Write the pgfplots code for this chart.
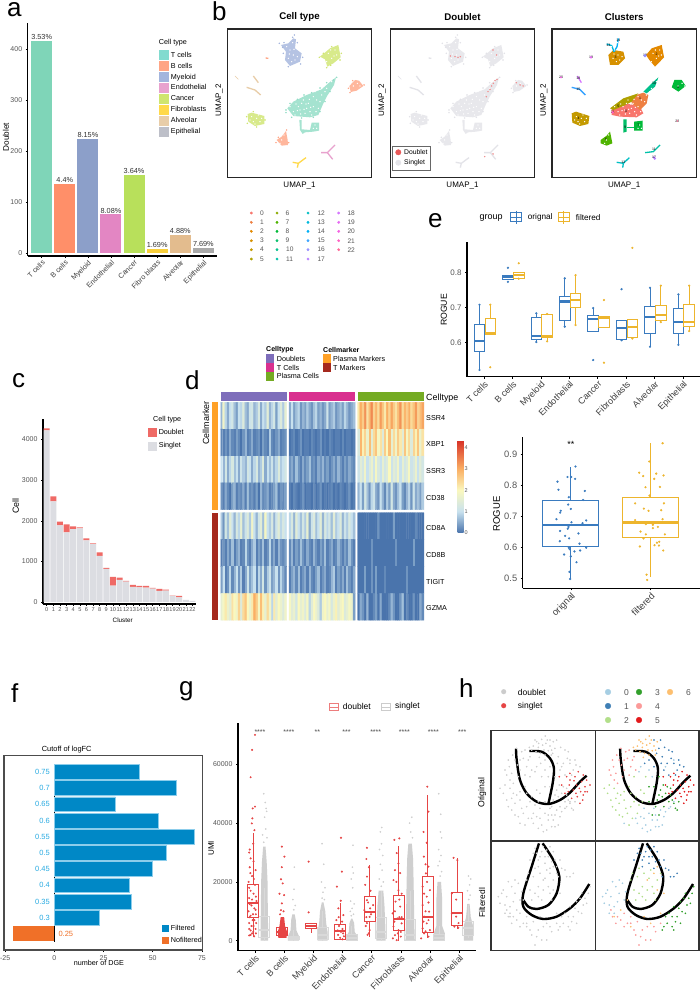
\documentclass[border=0pt]{standalone}
\usepackage{fontspec}
\setmainfont{Liberation Sans}
\usepackage{pgfplots}
\usepgfplotslibrary{statistics}
\pgfplotsset{compat=1.18}
\pgfkeys{/pgf/number format/assume math mode=true}
\newcommand\fs[1]{\fontsize{#1}{#1}\selectfont}
\definecolor{tk}{HTML}{555555}
\definecolor{eb}{HTML}{3A7BBF}
\definecolor{ey}{HTML}{EDB52D}
\definecolor{dbl}{HTML}{E64545}
\definecolor{sgl}{HTML}{CFCFCF}
\definecolor{cTc}{HTML}{7FD5B8}\definecolor{cBc}{HTML}{FF8F69}\definecolor{cMy}{HTML}{8C9FC9}\definecolor{cEn}{HTML}{E386C3}
\definecolor{cCa}{HTML}{B8E05B}\definecolor{cFi}{HTML}{F8CF3B}\definecolor{cAl}{HTML}{E3BC8E}\definecolor{cEp}{HTML}{A9A9A9}
\definecolor{lTc}{HTML}{82DBCF}\definecolor{lBc}{HTML}{FFA585}\definecolor{lMy}{HTML}{A3B5DD}\definecolor{lEn}{HTML}{E8A2CE}
\definecolor{lCa}{HTML}{CFE56E}\definecolor{lFi}{HTML}{FFD94A}\definecolor{lAl}{HTML}{E8CDA8}\definecolor{lEp}{HTML}{BDBFC8}
\definecolor{uT}{HTML}{8FDCC5}\definecolor{ugr}{HTML}{E3E3E8}
\definecolor{stkS}{HTML}{DCDDE2}\definecolor{stkD}{HTML}{EF6A66}
\definecolor{fb}{HTML}{0088C6}\definecolor{fe}{HTML}{8CCDEB}\definecolor{fo}{HTML}{F07028}\definecolor{ft}{HTML}{29ABE2}
\definecolor{aP}{HTML}{7E6EBB}\definecolor{aT}{HTML}{D9308F}\definecolor{aG}{HTML}{74AB23}\definecolor{aO}{HTML}{FFA126}\definecolor{aB}{HTML}{A5291E}
\definecolor{c0}{HTML}{F8766D}\definecolor{c1}{HTML}{EE8042}\definecolor{c2}{HTML}{E38900}
\definecolor{c3}{HTML}{D69100}\definecolor{c4}{HTML}{C49A00}\definecolor{c5}{HTML}{AFA100}
\definecolor{c6}{HTML}{8CAB00}\definecolor{c7}{HTML}{4FB400}\definecolor{c8}{HTML}{00BA38}
\definecolor{c9}{HTML}{00BE67}\definecolor{c10}{HTML}{00C08B}\definecolor{c11}{HTML}{00C1A9}
\definecolor{c12}{HTML}{00BFC4}\definecolor{c13}{HTML}{00BADE}\definecolor{c14}{HTML}{00B0F6}
\definecolor{c15}{HTML}{35A2FF}\definecolor{c16}{HTML}{9590FF}\definecolor{c17}{HTML}{B983FF}
\definecolor{c18}{HTML}{D575FE}\definecolor{c19}{HTML}{E76BF3}\definecolor{c20}{HTML}{F564E3}
\definecolor{c21}{HTML}{FF61C3}\definecolor{c22}{HTML}{FF6A98}
\definecolor{h0}{HTML}{A6CEE3}\definecolor{h1}{HTML}{3F7FB5}\definecolor{h2}{HTML}{B2DF8A}
\definecolor{h3}{HTML}{33A02C}\definecolor{h4}{HTML}{FB9A99}\definecolor{h5}{HTML}{E31A1C}
\definecolor{h6}{HTML}{FDBF6F}
\pgfplotsset{
  colormap={hm}{rgb255(0cm)=(74,116,172); rgb255(1cm)=(200,225,238); rgb255(2cm)=(250,248,190); rgb255(3cm)=(250,175,100); rgb255(4.37cm)=(215,48,39)},
  base/.style={scale only axis,anchor=north west,/pgf/number format/1000 sep={},scaled ticks=false,
    tick label style={font=\fs{7},text=tk},
    axis x line*=bottom,axis y line*=left,axis line style={line width=1.1pt},
    tick style={line width=.5pt,black},tick align=outside,major tick length=2pt,boxplot/draw direction=y},
  ylab/.style n args={3}{ylabel style={at={(axis description cs:#1,#2)},anchor=center,font=\fs{#3}}},
  xlab/.style n args={3}{xlabel style={at={(axis description cs:#1,#2)},anchor=center,font=\fs{#3}}},
  rotx/.style={xticklabel style={rotate=45,anchor=north east,inner sep=1pt,text=black!75,font=\fs{#1}}},
  swatch/.style 2 args={legend image code/.code={\fill[##1,draw=none] (0pt,-#2/2) rectangle (#1,#2/2);}},
  lg/.style n args={3}{legend style={draw=none,fill=none,at={(#1,#2)},anchor=north west,inner sep=0pt,outer sep=0pt,font=\fs{7.2},row sep=#3,/tikz/every even column/.style={column sep=3pt}},legend cell align=left},
  umap/.style={base,axis lines=box,axis line style={line width=1.2pt,black!85},xtick=\empty,ytick=\empty,width=144.4pt,height=148.3pt,xmin=52,xmax=485,ymin=87,ymax=532,y dir=reverse,
    xlabel=UMAP\_1,ylabel=UMAP\_2,xlab={.5}{-.057}{8},ylab={-.057}{.52}{8},
    title style={font=\bfseries\fs{9.7},at={(.5,1.04)},anchor=center}},
  hpan/.style={base,axis lines=box,axis line style={line width=1.2pt,black!80},xtick=\empty,ytick=\empty,xmin=63,xmax=376,y dir=reverse},
  hgrey/.style={scatter,only marks,mark=*,mark size=.6,scatter src=explicit symbolic,
    scatter/classes={0={draw=sgl,fill=sgl},1={draw=sgl,fill=sgl},2={draw=sgl,fill=sgl},3={draw=sgl,fill=sgl},4={draw=sgl,fill=sgl},5={draw=dbl,fill=dbl},6={draw=sgl,fill=sgl}}},
  hcol/.style={scatter,only marks,mark=*,mark size=.6,scatter src=explicit symbolic,
    scatter/classes={0={draw=h0,fill=h0},1={draw=h1,fill=h1},2={draw=h2,fill=h2},3={draw=h3,fill=h3},4={draw=h4,fill=h4},5={draw=h5,fill=h5},6={draw=h6,fill=h6}}},
}
% boxplot: colour, position, whiskers and quartiles; \bw is half the box width
\newcommand\bx[7]{\addplot[boxplot prepared={draw position=#2,lower whisker=#3,lower quartile=#4,median=#5,upper quartile=#6,upper whisker=#7},draw=#1,solid,line width=.9pt,forget plot] coordinates {};
  \pgfmathsetmacro\xa{#2-\bw}\pgfmathsetmacro\xb{#2+\bw}
  \edef\tmp{\noexpand\addplot[draw=#1,line width=2.2pt,forget plot] coordinates {(\xa,#5)(\xb,#5)};}\tmp}
\newcommand\pts[3][.8]{\addplot[only marks,mark=*,mark size=#1,color=#2,mark options={draw=none,fill=#2},forget plot] coordinates {#3};}
\newcommand\poly[2]{\addplot[fill=#1,draw=none,forget plot] coordinates {#2};}
\newcommand\upoly[2]{\addplot[fill=#1,fill opacity=.8,draw=none,forget plot] coordinates {#2};}
\newcommand\lin[3][1.3pt]{\addplot[draw=#2,line width=#1,forget plot] coordinates {#3};}
\newcommand\abar[4]{\addplot[ybar,bar width=21pt,bar shift=0pt,draw=none,fill=#1,forget plot] coordinates {(#2,#3)[#4]};}
\newcommand\lbl[4][west]{\node[anchor=#1,inner sep=0pt,font=\fs{7.2}] at (#2pt,-#3pt) {#4};}
\newcommand\rct[5]{\fill[#1] (#2pt,-#3pt) rectangle (#4pt,-#5pt);}
% heatmap block: 4 rows of 30 cells
\newcommand\hmblock[3]{\addplot[matrix plot*,mesh/cols=30,point meta=\thisrowno{0}] table[header=false,row sep=\\,x expr={#1+2.207*(mod(\coordindex,30)+.5)},y expr={#2+26.85*(floor(\coordindex/30)+.5)}] {#3};}
% cell-type shapes of the UMAP
\newcommand\umapcells[7]{%
 \upoly{#4}{(213,135)(235,130)(250,115)(258,118)(255,145)(275,160)(270,185)(240,198)(225,180)(228,155)}
 \upoly{#5}{(330,170)(360,145)(385,135)(392,172)(370,190)(352,200)(345,178)}
 \upoly{#2}{(378,232)(372,255)(350,290)(340,310)(325,345)(300,352)(250,348)(232,325)(250,305)(290,285)(335,268)(355,250)}
 \upoly{#2}{(268,360)(275,360)(275,388)(300,390)(305,368)(327,368)(327,392)(310,395)(285,397)(278,402)(270,390)}
 \upoly{#3}{(418,258)(435,240)(447,242)(460,258)(440,272)(422,276)}
 \upoly{#5}{(113,342)(125,338)(163,348)(163,372)(135,378)(115,365)}
 \upoly{#3}{(200,420)(215,410)(228,393)(233,420)(234,435)(215,437)}
 \lin{#6}{(333,458)(352,458)(375,435)}\lin{#6}{(352,458)(368,478)}
 \lin{#7}{(248,487)(265,490)(288,473)}\lin{#7}{(265,490)(262,503)}
 \lin{#1}{(130,228)(145,248)}\lin{#1}{(110,262)(135,270)(152,285)}
 \lin[.6pt]{#1}{(75,228)(85,238)}\lin{#3}{(167,174)(175,175)}
 \pts[.5]{#2}{(228,330)(240,310)(262,298)(282,285)(305,278)(330,264)(350,248)(370,240)(228,338)(245,352)(275,354)(310,352)(330,335)(345,305)(360,275)(380,232)}
 \pts[.5]{#4}{(208,130)(222,128)(248,112)(262,128)(278,172)(272,192)(235,200)(220,160)(218,142)(253,105)}
 \pts[.5]{#5}{(328,172)(340,160)(365,140)(394,160)(390,180)(362,196)(350,203)(110,350)(112,370)(140,381)(165,360)(130,335)}
 \pts[.5]{#3}{(415,265)(428,242)(462,255)(420,278)(198,428)(205,412)(236,428)(230,390)}
}
\newcommand\specks{\pts[.4]{white}{(250,335)(265,320)(280,300)(295,310)(310,290)(320,300)(335,285)(345,275)(300,335)(285,340)(270,330)(255,345)(310,320)(325,325)(290,325)(275,310)(305,345)(240,320)(330,305)(315,275)(350,265)(365,245)(258,312)(272,342)(288,312)(302,322)(318,335)(282,328)(298,298)(262,332)(240,150)(250,165)(235,175)(255,180)(262,170)(245,185)(230,140)(248,128)(238,162)(252,148)(355,160)(365,175)(375,150)(350,185)(380,165)(362,150)(372,168)(125,350)(140,355)(150,365)(130,365)(155,355)(120,360)(145,345)(135,372)(430,258)(442,250)(450,258)(215,420)(222,405)(210,430)(315,375)(310,385)(320,385)}}
\newcommand\trajtop{%
 \addplot[black,line width=2.4pt,smooth,forget plot] coordinates {(138,266)(140,300)(150,360)(170,400)(200,425)(235,432)(270,420)(300,398)(330,365)(350,347)};
 \addplot[black,line width=2.4pt,smooth,forget plot] coordinates {(178,273)(215,275)(240,295)(252,325)(248,370)(235,432)};}
\newcommand\trajbot{%
 \addplot[black,line width=2.4pt,smooth,forget plot] coordinates {(358,672)(330,715)(300,745)(260,770)(220,777)(185,765)(160,740)(160,700)(185,620)(207,550)};
 \addplot[black,line width=2.4pt,smooth,forget plot] coordinates {(218,550)(250,600)(268,650)(260,700)(235,735)(200,747)(175,740)(160,720)};}
\pgfplotstableread[row sep=\\]{x y c\\
200 245 6\\215 238 6\\228 250 6\\240 258 6\\205 262 6\\222 270 6\\190 258 6\\235 272 6\\212 280 6\\250 245 6\\198 275 6\\226 228 6\\244 285 6\\185 270 6\\218 255 6\\208 292 6\\232 240 6\\206 250 6\\245 270 6\\195 240 6\\225 285 6\\178 262 6\\
300 340 5\\315 350 5\\325 335 5\\335 365 5\\320 375 5\\345 380 5\\310 390 5\\332 395 5\\350 360 5\\298 375 5\\340 405 5\\322 410 5\\285 400 5\\305 415 5\\352 395 5\\290 350 5\\275 375 5\\330 430 5\\312 362 5\\328 385 5\\340 345 5\\345 395 5\\318 400 5\\300 360 5\\360 375 5\\295 395 5\\338 420 5\\268 350 5\\
135 300 4\\150 330 4\\125 340 4\\160 295 4\\145 350 4\\118 320 4\\170 320 4\\110 345 4\\155 275 4\\130 370 4\\185 330 4\\175 300 4\\128 285 4\\142 315 4\\165 345 4\\120 360 4\\105 330 4\\150 300 4\\180 290 4\\115 300 4\\140 265 4\\165 270 4\\
130 400 2\\110 420 2\\150 420 2\\170 440 2\\125 450 2\\145 470 2\\185 410 2\\165 380 2\\120 385 2\\190 460 2\\155 445 2\\200 390 2\\100 400 2\\135 430 2\\175 475 2\\215 350 2\\210 400 2\\180 350 2\\115 440 2\\140 405 2\\160 460 2\\180 425 2\\105 375 2\\125 415 2\\195 435 2\\150 395 2\\170 400 2\\205 425 2\\90 385 2\\135 465 2\\165 495 2\\
200 470 0\\225 460 0\\250 480 0\\215 495 0\\240 445 0\\270 470 0\\230 510 0\\260 450 0\\190 490 0\\285 445 0\\210 445 0\\245 500 0\\225 330 0\\200 320 0\\275 320 0\\300 300 0\\290 440 0\\235 480 0\\210 475 0\\255 500 0\\185 475 0\\275 455 0\\220 515 0\\245 465 0\\300 425 0\\265 495 0\\205 505 0\\195 335 0\\235 350 0\\150 490 0\\
265 290 1\\280 310 1\\295 275 1\\310 330 1\\270 330 1\\255 265 1\\285 345 1\\300 310 1\\318 315 1\\260 240 1\\240 320 1\\225 300 1\\272 262 1\\292 295 1\\305 345 1\\262 310 1\\248 280 1\\315 300 1\\285 270 1\\330 320 1\\240 240 1\\212 310 1\\
260 390 3\\285 425 3\\265 410 3\\300 430 3\\250 420 3\\280 380 3\\305 445 3\\240 380 3\\270 440 3\\225 380 3\\255 350 3\\290 405 3\\235 465 3\\275 400 3\\295 420 3\\255 405 3\\315 425 3\\245 440 3\\268 375 3\\290 385 3\\225 425 3\\310 450 3\\255 465 3\\
}\hTop
\pgfplotstableread[row sep=\\]{x y c\\
195 565 1\\215 575 1\\235 590 1\\205 600 1\\225 610 1\\250 575 1\\260 620 1\\285 630 1\\240 625 1\\190 580 1\\270 600 1\\300 650 1\\220 560 1\\245 605 1\\265 650 1\\210 590 1\\230 570 1\\200 580 1\\255 600 1\\275 625 1\\240 560 1\\290 650 1\\225 590 1\\205 620 1\\310 640 1\\180 600 1\\
300 740 3\\320 725 3\\335 700 3\\310 770 3\\280 790 3\\345 715 3\\325 755 3\\295 800 3\\265 810 3\\355 700 3\\340 735 3\\305 785 3\\285 760 3\\315 745 3\\330 715 3\\295 770 3\\270 800 3\\350 730 3\\300 810 3\\335 760 3\\320 790 3\\275 770 3\\360 680 3\\
130 770 4\\160 790 4\\180 810 4\\200 830 4\\220 800 4\\150 760 4\\110 750 4\\245 815 4\\190 785 4\\125 790 4\\230 840 4\\170 770 4\\140 780 4\\170 790 4\\205 810 4\\215 840 4\\240 800 4\\115 770 4\\185 825 4\\150 800 4\\260 790 4\\195 855 4\\
100 690 0\\125 680 0\\110 710 0\\145 670 0\\90 730 0\\120 740 0\\135 700 0\\150 720 0\\105 760 0\\95 700 0\\115 665 0\\135 660 0\\85 710 0\\105 735 0\\130 725 0\\155 695 0\\120 760 0\\
190 650 2\\205 680 2\\225 655 2\\180 690 2\\240 700 2\\215 720 2\\195 625 2\\175 640 2\\235 680 2\\250 660 2\\205 710 2\\210 640 2\\230 630 2\\170 660 2\\195 700 2\\245 720 2\\220 690 2\\260 640 2\\185 720 2\\
220 660 6\\240 640 6\\250 690 6\\120 770 6\\170 800 6\\160 720 6\\210 770 6\\260 760 6\\270 700 6\\250 620 6\\140 750 6\\230 790 6\\
}\hBot
\begin{document}
\begin{tikzpicture}
\useasboundingbox (0,0) rectangle (700pt,-990pt);
\fill[white] (0,0) rectangle (700pt,-990pt);
% a
\begin{axis}[base,at={(27.7pt,-22.7pt)},width=189pt,height=233.3pt,xmin=-.606,xmax=7.576,ymin=-5.3,ymax=451.5,
  ytick={0,100,200,300,400},xtick={0,...,7},xticklabels={T cells,B cells,Myeloid,Endothelial,Cancer,Fibro blasts,Alveolar,Epithelial},rotx=7.2,
  ylabel=Doublet,ylab={-.115}{.51}{8.2},point meta=explicit symbolic,
  every node near coord/.style={font=\fs{7.3},text=black!80,inner sep=1pt},nodes near coords,
  lg={.693}{.883}{.2pt}]
\abar{cTc}{0}{415.7}{3.53\%}
\abar{cBc}{1}{135.7}{4.4\%}
\abar{cMy}{2}{223.8}{8.15\%}
\abar{cEn}{3}{76.4}{8.08\%}
\abar{cCa}{4}{153.3}{3.64\%}
\abar{cFi}{5}{8.4}{1.69\%}
\abar{cAl}{6}{35.8}{4.88\%}
\abar{cEp}{7}{11}{7.69\%}
\addlegendimage{swatch={10.3pt}{10pt},fill=lTc}\addlegendentry{T cells}
\addlegendimage{swatch={10.3pt}{10pt},fill=lBc}\addlegendentry{B cells}
\addlegendimage{swatch={10.3pt}{10pt},fill=lMy}\addlegendentry{Myeloid}
\addlegendimage{swatch={10.3pt}{10pt},fill=lEn}\addlegendentry{Endothelial}
\addlegendimage{swatch={10.3pt}{10pt},fill=lCa}\addlegendentry{Cancer}
\addlegendimage{swatch={10.3pt}{10pt},fill=lFi}\addlegendentry{Fibroblasts}
\addlegendimage{swatch={10.3pt}{10pt},fill=lAl}\addlegendentry{Alveolar}
\addlegendimage{swatch={10.3pt}{10pt},fill=lEp}\addlegendentry{Epithelial}
\end{axis}
% b
\begin{axis}[umap,at={(227.3pt,-29pt)},title=Cell type]
\umapcells{lAl}{uT}{lBc}{lMy}{lCa}{lEn}{lFi}
\specks
\end{axis}
\begin{axis}[umap,at={(390.3pt,-29pt)},title=Doublet]
\umapcells{ugr}{ugr}{ugr}{ugr}{ugr}{ugr}{ugr}
\specks
\pts[.5]{dbl!60}{(361,250)(356,258)(351,268)(366,242)(372,238)(246,170)(232,168)(255,172)(262,170)(371,165)(360,150)(441,255)(450,258)(430,248)(345,275)(340,290)(335,470)(360,462)}
\end{axis}
\begin{axis}[umap,at={(552pt,-29pt)},title=Clusters]
\poly{c0}{(231,325)(276,310)(316,320)(326,340)(306,352)(256,350)(231,345)}
\poly{c1}{(291,290)(326,278)(341,285)(336,310)(316,330)(291,310)}
\poly{c5}{(226,325)(266,295)(311,280)(291,305)(266,318)(236,330)}
\poly{c10}{(371,232)(361,260)(336,280)(326,275)(351,250)}
\poly{c9}{(266,358)(276,358)(276,395)(266,398)}
\poly{c8}{(298,365)(324,362)(324,392)(298,392)}
\lin{c9}{(276,382)(298,382)}
\poly{c7}{(198,420)(216,407)(226,395)(233,430)(216,437)(198,430)}
\poly{c4}{(111,340)(124,335)(164,348)(161,372)(136,378)(113,368)}
\poly{c3}{(221,165)(236,150)(266,155)(271,175)(251,195)(226,195)}
\poly{c2}{(334,165)(351,145)(381,135)(388,172)(361,200)(344,180)}
\poly{c8}{(411,262)(419,240)(441,240)(453,258)(431,275)}
\lin{c13}{(216,132)(231,137)(238,155)}
\lin{c14}{(251,115)(247,140)(238,155)}
\lin{c15}{(111,262)(135,268)(152,285)}
\lin{c18}{(128,228)(140,248)}
\lin{c11}{(331,458)(356,455)(376,435)}
\lin[2pt]{c17}{(356,470)(362,478)}
\lin{c12}{(246,487)(266,490)(284,473)}
\lin{c12}{(266,490)(264,503)}
\pts[1.4]{c16}{(331,167)}
\pts[1]{c19}{(169,172)}
\pts[.7]{c20}{(79,232)}
\pts[1]{c21}{(234,337)}
\pts[.5]{c22}{(428,363)}
\specks
\foreach \n/\xx/\yy in {0/274/333,1/316/295,2/366/163,3/243/172,4/132/354,5/251/320,6/214/418,7/311/377,8/431/262,9/271/383,10/358/250,11/358/448,12/266/487,13/221/136,14/251/122,15/131/268,16/331/167,17/358/472,18/131/236,19/169/172,20/79/232,21/234/337,22/428/363}{
  \edef\tmp{\noexpand\node[font=\noexpand\fs{3.5},inner sep=0pt] at (axis cs:\xx,\yy) {\n};}\tmp}
\end{axis}
% cluster legend of b and legend dots of b and h
\begin{axis}[hide axis,scale only axis,anchor=north west,at={(0pt,0pt)},width=700pt,height=990pt,xmin=0,xmax=700,ymin=0,ymax=990,y dir=reverse,clip=false]
\pts[1.2]{c0}{(251.3,213)}\pts[1.2]{c1}{(251.3,222.3)}\pts[1.2]{c2}{(251.3,231.3)}\pts[1.2]{c3}{(251.3,240.7)}\pts[1.2]{c4}{(251.3,249.7)}\pts[1.2]{c5}{(251.3,259)}
\pts[1.2]{c6}{(277,213)}\pts[1.2]{c7}{(277,222.3)}\pts[1.2]{c8}{(277,231.3)}\pts[1.2]{c9}{(277,240.7)}\pts[1.2]{c10}{(277,249.7)}\pts[1.2]{c11}{(277,259)}
\pts[1.2]{c12}{(308,213)}\pts[1.2]{c13}{(308,222.3)}\pts[1.2]{c14}{(308,231.3)}\pts[1.2]{c15}{(308,240.7)}\pts[1.2]{c16}{(308,249.7)}\pts[1.2]{c17}{(308,259)}
\pts[1.2]{c18}{(338.7,213)}\pts[1.2]{c19}{(338.7,222.3)}\pts[1.2]{c20}{(338.7,231.3)}\pts[1.2]{c21}{(338.7,240.7)}\pts[1.2]{c22}{(338.7,249.7)}
\pts[2.7]{dbl!90}{(398.3,152.3)}\pts[2.7]{ugr}{(398.3,162.7)}
\pts[2.3]{black!20}{(503.7,691.7)}\pts[2.3]{dbl}{(503.7,705.7)}
\pts[2.8]{h0}{(608,692)}\pts[2.8]{h1}{(608,706)}\pts[2.8]{h2}{(608,720)}
\pts[2.8]{h3}{(639,692)}\pts[2.8]{h4}{(639,706)}\pts[2.8]{h5}{(639,720)}\pts[2.8]{h6}{(670,692)}
\end{axis}
% c
\begin{axis}[base,at={(43pt,-419pt)},width=152.7pt,height=185pt,xmin=-.56,xmax=22.5,ymin=-50,ymax=4507,
  ybar stacked,bar width=6pt,xtick={0,...,22},ytick={0,1000,2000,3000,4000},
  xticklabel style={font=\fs{5.6},text=tk,inner sep=1pt},
  xlabel=Cluster,ylabel=Cell,xlab={.522}{-.086}{6.3},ylab={-.179}{.531}{8.9},
  lg={.688}{.957}{3pt}]
\addplot[fill=stkS,draw=none,forget plot] coordinates {(0,4226)(1,2478)(2,1887)(3,1714)(4,1796)(5,1813)(6,1517)(7,1426)(8,1133)(9,813)(10,402)(11,542)(12,500)(13,369)(14,361)(15,353)(16,328)(17,271)(18,279)(19,150)(20,115)(21,49)(22,25)};
\addplot[fill=stkD,draw=none,forget plot] coordinates {(0,50)(1,123)(2,91)(3,197)(4,66)(5,24)(6,49)(7,17)(8,91)(9,24)(10,214)(11,58)(12,17)(13,50)(14,33)(15,41)(16,17)(17,49)(18,24)(19,6)(20,33)(21,0)(22,0)};
\addlegendimage{swatch={8.7pt}{9pt},fill=stkD}\addlegendentry{Doublet}
\addlegendimage{swatch={8.7pt}{9pt},fill=stkS}\addlegendentry{Singlet}
\end{axis}
% d heatmap
\begin{axis}[scale only axis,anchor=north west,at={(220.5pt,-402.3pt)},width=203.5pt,height=217.7pt,xmin=220.5,xmax=424,ymin=402.3,ymax=620,y dir=reverse,
  axis lines=none,ticks=none,colormap name=hm,point meta min=0,point meta max=4.37,colorbar,
  colorbar style={scale only axis,width=6pt,height=92.7pt,at={(parent axis.north east)},anchor=north west,xshift=25pt,yshift=-37.7pt,ytick={0,1,2,3,4},
    axis line style={draw=none},tick style={draw=none},yticklabel style={font=\fs{5.5},text=tk,inner sep=1pt}}]
\hmblock{220.5}{402.3}{.6\\1.8\\.9\\.5\\1\\1.2\\.7\\.4\\1\\.9\\1.4\\.7\\.5\\1.1\\1.2\\.6\\.8\\1.3\\.5\\1\\.8\\1.5\\.6\\.9\\1.2\\.4\\1\\1.4\\.8\\1.6\\
.2\\.1\\.3\\.1\\.5\\.2\\.1\\.4\\.2\\0\\.3\\.6\\.1\\.2\\.5\\.1\\.2\\.3\\0\\.4\\.2\\.1\\.8\\.2\\.1\\.3\\.5\\.1\\.2\\.3\\
1\\.6\\1.2\\.5\\.9\\1.3\\.7\\1\\.5\\1.1\\.8\\.6\\1.2\\1\\.5\\.9\\1.3\\.6\\.8\\1.4\\.5\\1\\.7\\1.1\\.6\\.9\\1.4\\.8\\1\\1.2\\
.3\\.1\\.5\\.2\\0\\.4\\.6\\.1\\.3\\.2\\.5\\.1\\.7\\.2\\.3\\.1\\.4\\0\\.6\\.2\\.3\\.5\\.1\\.2\\.4\\.7\\.1\\.3\\.2\\.4\\}
\hmblock{220.5}{512.7}{.8\\.3\\1.2\\.7\\1.5\\1\\.6\\1.3\\.9\\1.6\\.7\\1.1\\1.4\\.8\\1.8\\1\\.6\\1.2\\1.5\\.7\\1.9\\1\\.8\\1.3\\.6\\1.1\\1.5\\.9\\1.3\\1\\
.1\\.3\\.1\\.5\\.2\\.7\\.1\\.4\\.6\\.1\\.2\\.9\\.3\\.1\\.5\\.8\\.1\\.4\\.2\\.7\\.1\\.3\\.9\\.2\\.5\\.1\\.6\\.3\\.2\\.4\\
.4\\1\\.1\\.3\\.9\\.2\\.6\\1\\.3\\.8\\.1\\.5\\1.1\\.4\\.7\\1\\.2\\.9\\.5\\1.2\\.3\\.8\\1.1\\.4\\.6\\1\\.3\\.9\\.5\\.2\\
1.6\\1.9\\2.2\\1.7\\1.5\\2.3\\2\\1.8\\2.5\\1.4\\2.4\\2.7\\2\\1.7\\2.2\\3\\2.6\\1.9\\2.8\\2.1\\1.6\\2.4\\1.8\\.9\\2.2\\1.5\\2\\1.7\\1.4\\1.8\\}
\hmblock{289}{402.3}{.5\\1\\.4\\.7\\.9\\.3\\.6\\.4\\.8\\.5\\.3\\.7\\.9\\.4\\.6\\.3\\.5\\1.1\\.4\\.6\\.8\\.3\\.5\\.7\\.4\\.9\\.6\\.3\\.5\\.7\\
0\\.1\\.2\\0\\.1\\.3\\0\\.1\\.1\\0\\.2\\.1\\0\\.1\\.3\\0\\.1\\0\\.2\\.1\\0\\.1\\.1\\0\\.2\\0\\.1\\.1\\0\\.1\\
.3\\.5\\.2\\.7\\.3\\.1\\.5\\.2\\.4\\.7\\.2\\.3\\.1\\.5\\.3\\.6\\.2\\.4\\.1\\.3\\.5\\.2\\.6\\.3\\.1\\.4\\.2\\.5\\.3\\.2\\
.1\\0\\.2\\.1\\0\\.1\\.3\\0\\.1\\.1\\0\\.2\\0\\.1\\.3\\0\\.1\\0\\.1\\.2\\0\\.1\\0\\.2\\.1\\0\\.1\\.3\\0\\.1\\}
\hmblock{289}{512.7}{.9\\1.3\\.6\\1.5\\1\\.7\\1.2\\.8\\1.6\\.5\\1.1\\1.4\\.7\\1\\1.5\\.6\\1.3\\.9\\1.2\\.7\\1.5\\.8\\1\\1.4\\.6\\1.1\\.8\\1.3\\1\\.7\\
.2\\.6\\.1\\.4\\.2\\.7\\.3\\.1\\.5\\.2\\.1\\.6\\.3\\.1\\.4\\.2\\.7\\.1\\.3\\.5\\.1\\.2\\.6\\.3\\.1\\.4\\.2\\.7\\.3\\.1\\
.1\\.4\\.6\\.2\\.7\\.1\\.3\\.5\\.1\\.6\\.2\\.1\\.4\\.7\\.1\\.3\\.5\\.1\\.2\\.6\\.8\\.1\\.4\\.2\\.5\\.1\\.7\\.3\\.1\\.5\\
1.9\\1.5\\1.7\\1.2\\2\\1.6\\1.8\\1.4\\1.9\\.9\\1.5\\2\\1.7\\1.4\\.8\\1.8\\2\\1.6\\1.9\\1.3\\1.7\\2.1\\1.5\\1.8\\2\\1.4\\1.6\\1.9\\1.7\\.4\\}
\hmblock{357.7}{402.3}{2.2\\3\\2.6\\3.3\\2.3\\2.8\\3.4\\2.5\\2.9\\2.4\\3.2\\2.7\\2.2\\3\\2.5\\3.1\\2.6\\2.3\\2.8\\3.3\\2.4\\2.9\\2.6\\3\\2.4\\2.7\\3.2\\2.5\\2.8\\3.1\\
1.3\\2.9\\2.1\\2.5\\1.7\\2.8\\1.5\\2.4\\2.7\\1.9\\2.3\\1.4\\2.6\\2\\2.8\\1.6\\2.4\\1.8\\2.6\\2.2\\1.5\\2.7\\1.9\\2.4\\1.4\\2.5\\2.1\\2.7\\1.7\\2.3\\
1.1\\1.5\\1.2\\1.8\\1\\1.4\\1.7\\1.1\\1.9\\1.3\\1\\1.6\\1.2\\1.4\\2\\1.1\\1.5\\1.3\\1.8\\1\\1.6\\1.2\\1.4\\1.9\\1.1\\1.3\\1.7\\1\\1.5\\1.2\\
.6\\1\\.4\\1.2\\.7\\.3\\.9\\1.1\\.5\\.3\\1\\.6\\.2\\.8\\.4\\1.2\\.5\\.3\\.7\\1\\.4\\.2\\.6\\.9\\.3\\1.1\\.5\\.7\\.4\\.8\\}
\hmblock{357.7}{512.7}{0\\0\\0\\0\\0\\0\\0\\0\\0\\.3\\0\\0\\0\\0\\0\\0\\.4\\0\\0\\0\\0\\0\\0\\0\\0\\0\\.2\\0\\0\\0\\
0\\0\\0\\0\\0\\0\\.3\\0\\0\\0\\0\\0\\0\\0\\0\\0\\0\\.3\\0\\0\\0\\0\\0\\0\\0\\.4\\0\\0\\0\\0\\
0\\0\\0\\.4\\0\\0\\.3\\0\\.4\\0\\0\\0\\.2\\0\\0\\0\\0\\0\\0\\0\\0\\0\\.3\\0\\0\\0\\0\\0\\0\\0\\
0\\.5\\.3\\0\\.6\\0\\0\\.2\\.4\\0\\.5\\0\\0\\0\\.2\\.6\\.3\\0\\0\\.3\\.7\\0\\.2\\0\\0\\.3\\0\\0\\.5\\.2\\}
\end{axis}
% e, by cell type
\begin{axis}[base,at={(467pt,-241.7pt)},width=233pt,height=135pt,xmin=-.6,xmax=7.6,ymin=.503,ymax=.8886,
  ytick={.6,.7,.8},yticklabel style={/pgf/number format/fixed,/pgf/number format/precision=1,font=\fs{8}},
  xtick={0,...,7},xticklabels={T cells,B cells,Myeloid,Endothelial,Cancer,Fibroblasts,Alveolar,Epithelial},rotx=9,
  ylabel=ROGUE,ylab={-.099}{.494}{8.7},boxplot/box extend=.375,boxplot/whisker extend=0]
\def\bw{.1875}
\bx{eb}{-.16}{.522}{.5754}{.604}{.6526}{.7086}\bx{ey}{.22}{.625}{.625}{.627}{.668}{.7086}
\bx{eb}{.84}{.781}{.781}{.787}{.7925}{.7925}\bx{ey}{1.22}{.785}{.785}{.7925}{.801}{.801}
\bx{eb}{1.84}{.602}{.61}{.62}{.6734}{.684}\bx{ey}{2.22}{.604}{.615}{.62}{.68}{.682}
\bx{eb}{2.84}{.646}{.664}{.718}{.7315}{.784}\bx{ey}{3.22}{.6506}{.702}{.722}{.742}{.793}
\bx{eb}{3.84}{.6334}{.6334}{.6686}{.679}{.699}\bx{ey}{4.22}{.643}{.643}{.671}{.676}{.676}
\bx{eb}{4.84}{.607}{.61}{.641}{.663}{.663}\bx{ey}{5.22}{.612}{.615}{.644}{.667}{.667}
\bx{eb}{5.84}{.5886}{.6277}{.674}{.704}{.757}\bx{ey}{6.22}{.659}{.664}{.68}{.7057}{.763}
\bx{eb}{6.84}{.594}{.627}{.659}{.698}{.738}\bx{ey}{7.22}{.6334}{.646}{.659}{.7097}{.763}
\pts[.9]{eb}{(-.16,.522)(-.16,.7086)(.84,.814)(.84,.774)(1.84,.684)(1.84,.602)(2.84,.784)(2.84,.646)(3.84,.699)(3.84,.5506)(4.84,.753)(4.84,.607)(5.84,.757)(5.84,.5886)(6.84,.738)(6.84,.594)}
\pts[.9]{ey}{(.22,.53)(.22,.7086)(1.22,.827)(1.22,.783)(2.22,.682)(2.22,.604)(3.22,.793)(3.22,.6506)(4.22,.722)(4.22,.543)(5.22,.871)(5.22,.612)(6.22,.763)(6.22,.659)(7.22,.763)(7.22,.6334)}
\end{axis}
% e, overall
\begin{axis}[base,at={(522.7pt,-436.7pt)},width=177.3pt,height=151.6pt,xmin=-.603,xmax=1.62,ymin=.467,ymax=.956,
  ytick={.5,.6,.7,.8,.9},yticklabel style={/pgf/number format/fixed,/pgf/number format/precision=1,font=\fs{9.3}},
  xtick={0,1},xticklabels={orignal,filtered},rotx=9.4,ylabel=ROGUE,ylab={-.147}{.49}{9.5},boxplot/box extend=.703,boxplot/whisker extend=0]
\def\bw{.3515}
\bx{eb}{0}{.497}{.601}{.6706}{.749}{.8586}\bx{ey}{1}{.505}{.63}{.679}{.7607}{.935}
\pts[.9]{eb}{(.059,.860)(-.042,.826)(.004,.826)(.054,.820)(-.167,.811)(-.155,.785)(.176,.781)(-.025,.761)(.155,.752)(-.033,.737)(0,.723)(-.126,.717)(-.134,.711)(-.18,.690)(.193,.686)(.008,.680)(.147,.677)(-.029,.665)(-.038,.659)(-.134,.652)(.096,.644)(-.071,.636)(-.021,.628)(-.138,.619)(.109,.611)(-.025,.598)(-.013,.593)(.193,.598)(-.084,.576)(.046,.586)(.117,.589)(0,.570)(.071,.551)(-.017,.520)(-.008,.497)}
\pts[.9]{ey}{(1.151,.935)(.983,.876)(.858,.840)(1.071,.837)(.908,.829)(1.163,.831)(1.046,.820)(.937,.793)(1.117,.794)(.987,.766)(.807,.741)(1.168,.741)(.916,.724)(.975,.717)(1.134,.719)(.807,.687)(1.151,.690)(.941,.674)(1.029,.672)(1.092,.665)(1.029,.661)(.874,.650)(1.18,.641)(.941,.641)(.912,.628)(1.109,.617)(1.08,.614)(1.05,.606)(.866,.602)(1.105,.605)(1.159,.589)(.95,.511)(.958,.494)}
\node[font=\fs{9}] at (axis cs:0,.93) {**};
\end{axis}
% f
\begin{axis}[base,axis lines=box,at={(4pt,-755.7pt)},width=198.7pt,height=194.3pt,xmin=-25.6,xmax=75.4,ymin=-1,ymax=11,
  axis line style={line width=1.2pt,black!70},xtick={-25,0,25,50,75},xtick pos=bottom,
  ytick={1,...,10},yticklabels={0.3,0.35,0.4,0.45,0.5,0.55,0.6,0.65,0.7,0.75},
  yticklabel style={text=ft,xshift=49pt,font=\fs{7.5},inner sep=1pt},major y tick style={draw=none},ytick pos=left,
  xlabel=number of DGE,xlab={.478}{-.067}{7.2},lg={.795}{.137}{1.5pt}]
\addplot[black,line width=.7pt,forget plot] coordinates {(0,-.5)(0,10.5)};
\addplot[xbar,bar width=14.7pt,bar shift=0pt,fill=fb,draw=fe,line width=.5pt,forget plot] coordinates {(23,1)(39,2)(38,3)(50,4)(57,5)(71,6)(53,7)(31,8)(62,9)(43,10)};
\addplot[xbar,bar width=14.7pt,bar shift=0pt,fill=fo,draw=none,forget plot] coordinates {(-21,0)};
\node[anchor=west,font=\fs{7.5},inner sep=1pt] at (axis cs:1.5,0) {\color{fo}0.25};
\addlegendimage{swatch={7pt}{7pt},fill=fb}\addlegendentry{Filtered}
\addlegendimage{swatch={7pt}{7pt},fill=fo}\addlegendentry{Nofiltered}
\end{axis}
% g, UMI in thousands
\begin{axis}[base,at={(238pt,-722.7pt)},width=238pt,height=228pt,xmin=-.583,xmax=7.58,ymin=-3.4,ymax=74.15,
  ytick={0,20,40,60},yticklabels={0,20000,40000,60000},xtick={0,...,7},xticklabels={T cells,B cells,Myeloid,Endothelial,Cancer,Fibroblasts,Alveolar,Epithelial},rotx=9,
  ylabel=UMI,ylab={-.113}{.45}{8},boxplot/box extend=.377,boxplot/whisker extend=0]
\def\bw{.1885}
\poly{sgl}{(.19,0)(.45,0)(.45,3)(.44,10)(.43,20)(.40,27)(.36,32)(.28,32)(.24,27)(.21,20)(.20,10)(.19,3)}
\poly{sgl}{(1.13,0)(1.51,0)(1.51,1.5)(1.42,3.5)(1.40,7)(1.36,9)(1.28,9)(1.24,7)(1.22,3.5)(1.13,1.5)}
\poly{sgl}{(2.15,0)(2.49,0)(2.49,3)(2.44,6)(2.41,10)(2.35,13)(2.29,13)(2.23,10)(2.20,6)(2.15,3)}
\poly{sgl}{(3.13,0)(3.51,0)(3.51,1.5)(3.42,3)(3.40,6)(3.34,7.5)(3.30,7.5)(3.24,6)(3.22,3)(3.13,1.5)}
\poly{sgl}{(4.16,0)(4.48,0)(4.47,5)(4.44,12)(4.40,17)(4.24,17)(4.20,12)(4.17,5)}
\poly{sgl}{(5.16,0)(5.48,0)(5.46,8)(5.44,20)(5.42,28)(5.38,33)(5.26,33)(5.22,28)(5.20,20)(5.18,8)}
\poly{sgl}{(6.13,0)(6.51,0)(6.51,2.5)(6.42,5)(6.42,14)(6.38,20)(6.26,20)(6.22,14)(6.22,5)(6.13,2.5)}
\poly{sgl}{(7.16,0)(7.48,0)(7.48,5)(7.40,8)(7.36,12.5)(7.28,12.5)(7.24,8)(7.16,5)}
\pts[.6]{sgl}{(.30,50)(.35,47)(.38,45)(.40,44)(.33,42)(.37,38)(.26,36)(.41,35)(.3,33.5)(1.35,25)(1.34,17.5)(1.3,14)(1.38,12)(1.33,10.5)(2.3,33)(2.36,26)(2.28,20)(2.4,18)(2.33,16.5)(2.3,14.5)(2.38,14)(3.36,32.5)(3.34,25)(3.37,23)(3.3,21)(3.35,18)(3.28,13.5)(3.4,12.5)(3.33,11)(3.27,10)(3.38,9)(3.3,8.5)(4.35,38.5)(4.3,37)(4.34,33)(4.27,31)(4.38,29)(4.3,26)(4.36,24)(4.26,21)(4.4,20)(4.33,18.5)(5.38,42)(5.3,40)(5.34,37)(5.4,35)(6.3,50)(6.37,43)(6.36,37)(6.4,35)(6.3,31)(6.38,29)(6.33,27)(6.28,25.5)(6.4,23.5)(6.35,22)(7.32,22)(7.4,21)(7.36,19)(7.29,17)(7.38,15.5)(7.33,14)}
\bx{black!15}{.32}{0}{1.134}{3.6}{8.165}{18}\bx{black!15}{1.32}{0}{.4}{.8}{1.6}{3.5}\bx{black!15}{2.32}{0}{.45}{1.9}{4.5}{10}\bx{black!15}{3.32}{0}{.23}{1}{2.27}{5}
\bx{black!15}{4.32}{0}{.79}{3.06}{7.8}{17}\bx{black!15}{5.32}{0}{.23}{1.93}{7.26}{17}\bx{black!15}{6.32}{0}{.23}{1.02}{2.15}{5}\bx{black!15}{7.32}{1}{1.8}{4.2}{6.46}{12.1}
\poly{dbl}{(.8,1)(1.08,1)(1.1,3)(1.03,5)(1,8)(.88,8)(.84,5)(.78,3)}
\pts[.8]{dbl}{(0,70)(-.1,64.9)(-.15,55.6)(0,45.6)(-.08,45)(-.09,41.6)(-.11,39.9)(-.02,37.6)(-.2,30)(-.15,28)(-.05,27)(-.18,25)(.02,24)(-.1,22)(-.22,20)(0,19)(-.15,17)(-.05,16)(-.2,14.5)(.05,13.5)(-.12,12)(-.02,11)(-.22,10)(.03,9)(-.15,8.5)(-.08,7)(-.2,6)(-.05,5)(.02,4)(-.15,3.5)(-.1,2.5)(-.2,1.8)(-.03,1.5)(.92,32)(1.01,28.6)(.92,25)(.89,20.9)(.95,19.5)(.84,16)(1,15.5)(.92,12.7)(.89,10.4)(1.84,26.9)(1.84,9.64)(2.95,35)(2.98,23.5)(2.81,18.4)(2.94,13.6)(2.86,11)(3.03,8.7)(2.79,7)(2.88,5)(3,4)(2.95,3)(2.85,2)(3.05,1.5)(2.92,1)(3,.5)(3.84,31.6)(3.82,27.8)(3.91,25)(3.84,21.8)(3.78,19)(3.96,17)(3.84,13.8)(4.05,12.1)(3.75,10.4)(3.93,8.1)(3.84,6)(3.93,3.6)(3.86,2)(3.82,8)(3.95,11)(4.78,34.3)(4.95,34.8)(4.86,29.8)(4.92,26.3)(4.8,24)(4.98,23)(4.75,20.6)(4.92,17.2)(5.03,16)(4.82,13.3)(4.98,11.6)(4.72,9.3)(4.88,7.6)(5.03,5.9)(4.75,4.8)(4.92,3.6)(4.8,1.9)(5,1.4)(4.73,.8)(4.86,.2)(5,3)(5.91,52.4)(5.95,43.9)(5.78,37)(5.89,33.3)(5.79,28.6)(5.95,25.2)(5.86,22.9)(5.75,18.4)(6,17.2)(5.89,15)(5.75,12.1)(5.97,9.9)(5.8,8.2)(5.89,5.9)(5.75,4.2)(6,3.6)(5.8,2.5)(5.95,1.4)(5.7,.8)(6.81,28.2)(6.94,27.4)(6.75,16.1)(6.9,8.2)(6.97,4.4)(6.84,4.8)(6.75,9.3)(-.18,31)(-.06,33)(-.16,23)(-.04,21)(-.2,18)(.03,15)(-.1,14)(-.18,12.5)(.02,10.5)(-.07,9)(-.19,8)(-.02,7)(.04,6)(-.12,5)(-.2,4)(.03,2.5)(-.06,3)(-.15,2)(.86,9)(.98,10)(3.88,13)(3.98,9)(3.8,5)(3.9,2.5)(4.85,20)(4.95,14)(4.8,10)(4.95,8)(4.78,6.5)(4.9,2.5)(5.03,8)(5.85,26)(5.9,20)(5.8,16)(5.95,13)(5.85,10)(5.95,7)(5.78,6.5)(5.85,3.2)(2.87,8)(2.99,6.5)(2.84,3.5)(3.02,2.5)(6.9,14)(6.98,6)}
\bx{dbl}{-.07}{1.36}{7.8}{12.7}{19.28}{36.5}\bx{dbl}{.93}{.8}{1.93}{3.06}{4.536}{8.165}\bx{dbl}{1.93}{2.7}{4.2}{5.1}{5.9}{5.9}\bx{dbl}{2.93}{.23}{.45}{3.29}{5.556}{12.7}
\bx{dbl}{3.93}{1.36}{6.46}{9.87}{15}{25.7}\bx{dbl}{4.93}{0}{3.4}{7.37}{15.3}{32.3}\bx{dbl}{5.93}{.8}{2.72}{8.165}{21.77}{49.5}\bx{dbl}{6.93}{4.08}{5.1}{9.3}{16.44}{28}
\foreach \s/\xx in {****/.17,****/1.16,**/2.14,***/3.14,****/4.14,****/5.12,****/6.12,***/7.11}{
  \edef\tmp{\noexpand\node[font=\noexpand\fs{7},text=black!70] at (axis cs:\xx,70.8) {\s};}\tmp}
\end{axis}
% h
\begin{axis}[hpan,at={(491pt,-730.7pt)},width=104.3pt,height=110.3pt,ymin=212,ymax=543]
\addplot[hgrey] table[x=x,y=y,meta=c] {\hTop};
\trajtop
\end{axis}
\begin{axis}[hpan,at={(595.3pt,-730.7pt)},width=103.7pt,height=110.3pt,ymin=212,ymax=543]
\addplot[hcol] table[x=x,y=y,meta=c] {\hTop};
\trajtop
\end{axis}
\begin{axis}[hpan,at={(491pt,-841pt)},width=104.3pt,height=109.3pt,ymin=543,ymax=871]
\addplot[hgrey] table[x=x,y=y,meta=c] {\hBot};
\trajbot
\end{axis}
\begin{axis}[hpan,at={(595.3pt,-841pt)},width=103.7pt,height=109.3pt,ymin=543,ymax=871]
\addplot[hcol] table[x=x,y=y,meta=c] {\hBot};
\trajbot
\end{axis}
% panel letters
\foreach \l/\xx/\yy in {a/7/10,b/212/11,c/12/381,d/185/380,e/428/221,f/11/693,g/179/691,h/459/688}{
  \edef\tmp{\noexpand\node[anchor=west,inner sep=0pt,font=\noexpand\fs{26}] at (\xx pt,-\yy pt) {\l};}\tmp}
% legend a and c titles
\lbl{158.7}{43}{Cell type}
\lbl{153}{420}{Cell type}
% cluster legend text
\foreach \n/\xx/\yy in {0/260/213,1/260/222.3,2/260/231.3,3/260/240.7,4/260/249.7,5/260/259,6/285.5/213,7/285.5/222.3,8/285.5/231.3,9/285.5/240.7,10/286/249.7,11/286/259,12/317.3/213,13/317.3/222.3,14/317.3/231.3,15/317.3/240.7,16/317.3/249.7,17/317.3/259,18/347.3/213,19/347.3/222.3,20/347.3/231.3,21/347.3/240.7,22/347.3/249.7}{
  \edef\tmp{\noexpand\node[anchor=west,inner sep=0pt,text=tk,font=\noexpand\fs{6.6}] at (\xx pt,-\yy pt) {\n};}\tmp}
% doublet legend box
\draw[black!60,line width=.7pt] (392.3pt,-146.7pt) rectangle (430.3pt,-170pt);
\lbl{404}{152.3}{\fs{6.8}Doublet}
\lbl{404}{162.7}{\fs{6.8}Singlet}
% d annotation
\rct{aP}{220.5}{392}{286.7}{400.7}\rct{aT}{289}{392}{355.3}{400.7}\rct{aG}{357.7}{392}{424}{400.7}
\rct{aO}{211.7}{402.3}{218.3}{509.7}\rct{aB}{211.7}{512.7}{218.3}{620}
\rct{aP}{266}{354}{274.3}{362.7}\rct{aT}{266}{363}{274.3}{371.7}\rct{aG}{266}{372}{274.3}{380.7}
\rct{aO}{323}{354}{331.3}{362.7}\rct{aB}{323}{363}{331.3}{371.7}
\lbl{266}{350}{\bfseries\fs{7}Celltype}\lbl{323}{350}{\bfseries\fs{7}Cellmarker}
\lbl{276.7}{358.7}{Doublets}\lbl{276.7}{367.5}{T Cells}\lbl{276.7}{376.3}{Plasma Cells}
\lbl{333}{358.7}{Plasma Markers}\lbl{333}{367.5}{T Markers}
\lbl{426}{398}{\fs{8.9}Celltype}
\node[rotate=90,font=\fs{8.9}] at (206pt,-423pt) {Cellmarker};
\foreach \n/\yy in {SSR4/417.7,XBP1/444,SSR3/471,CD38/498,CD8A/528,CD8B/555,TIGIT/582,GZMA/608}{
  \edef\tmp{\noexpand\node[anchor=west,inner sep=0pt,font=\noexpand\fs{7.2}] at (426pt,-\yy pt) {\n};}\tmp}
% e legend
\lbl{479.3}{217.7}{\fs{9}group}
\draw[eb,line width=1pt] (510.7pt,-212.7pt) rectangle (521.7pt,-221.7pt) (510.7pt,-217.2pt)--(521.7pt,-217.2pt) (516.2pt,-210.7pt)--(516.2pt,-223.7pt);
\draw[ey,line width=1pt] (558.3pt,-212.7pt) rectangle (569.3pt,-221.7pt) (558.3pt,-217.2pt)--(569.3pt,-217.2pt) (563.8pt,-210.7pt)--(563.8pt,-223.7pt);
\lbl{527.7}{217.7}{\fs{8.2}orignal}\lbl{575.7}{217.7}{\fs{8.2}filtered}
% f title
\lbl[center]{66.7}{749.3}{\fs{7.4}Cutoff of logFC}
% g legend
\draw[dbl!70,line width=.7pt] (329pt,-703.7pt) rectangle (338pt,-710.7pt) (329pt,-707.2pt)--(338pt,-707.2pt);
\draw[black!20,line width=.7pt] (381.7pt,-703.7pt) rectangle (390.7pt,-710.7pt) (381.7pt,-707.2pt)--(390.7pt,-707.2pt);
\lbl{342.7}{706.7}{\fs{8.5}doublet}\lbl{395}{706.7}{\fs{8.5}singlet}
% h legend and strips
\lbl{517.7}{692.5}{\fs{8.5}doublet}\lbl{517.7}{706.5}{\fs{8.5}singlet}
\foreach \n/\xx/\yy in {0/624/692.5,1/624/706.5,2/624/720.5,3/655/692.5,4/655/706.5,5/655/720.5,6/686/692.5}{
  \edef\tmp{\noexpand\node[anchor=west,inner sep=0pt,text=tk,font=\noexpand\fs{8.5}] at (\xx pt,-\yy pt) {\n};}\tmp}
\node[rotate=90,font=\fs{8.7}] at (482pt,-792.7pt) {Original};
\node[rotate=90,font=\fs{8.4}] at (482pt,-903pt) {Filteredl};
\end{tikzpicture}
\end{document}
